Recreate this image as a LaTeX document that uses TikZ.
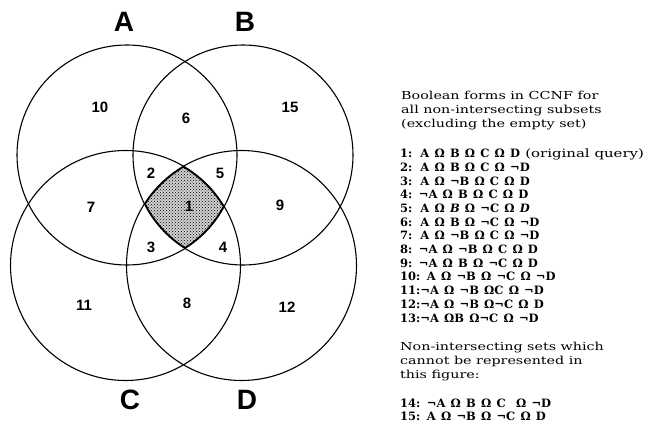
\documentclass[tikz,border=0pt]{standalone}
\usepackage{fontspec}
\setmainfont{DejaVu Serif}
\newfontfamily\wideserif{DejaVu Serif}[FakeStretch=1.3]
\newfontfamily\lblfont{Liberation Sans}
\newcommand\widegaps{\spaceskip=5.2pt plus 1pt\relax}
\newcommand\normgaps{\spaceskip=0pt\relax}
\newcommand\ngap{\hspace{8pt}}
\usetikzlibrary{patterns}
\begin{document}
\begin{tikzpicture}[x=1pt,y=-1pt,
  ring/.style={line width=1.1pt},
  setlbl/.style={font=\lblfont\bfseries\fontsize{28}{28}\selectfont, inner sep=0pt},
  reglbl/.style={font=\lblfont\bfseries\fontsize{15}{15}\selectfont, inner sep=0pt},
  txt/.style={anchor=base west, inner sep=0pt, font=\wideserif\fontsize{11}{13}\selectfont},
  frm/.style={anchor=base west, inner sep=0pt, font=\fontsize{11.5}{13}\selectfont\bfseries\widegaps}]
\useasboundingbox (0,0) rectangle (655,428);
% shaded central region (A and B and C and D)
\begin{scope}
  \clip (127,155) circle (110pt);
  \clip (243,155) circle (110pt);
  \clip (125.5,265.5) circle (115pt);
  \clip (241.5,265.5) circle (115pt);
  \fill[black!18] (0,0) rectangle (400,428);
  \fill[pattern=crosshatch dots] (0,0) rectangle (400,428);
  \draw[line width=2.6pt] (127,155) circle (110pt) (243,155) circle (110pt)
    (125.5,265.5) circle (115pt) (241.5,265.5) circle (115pt);
\end{scope}
% circles
\draw[ring] (127,155) circle (110pt);
\draw[ring] (243,155) circle (110pt);
\draw[ring] (125.5,265.5) circle (115pt);
\draw[ring] (241.5,265.5) circle (115pt);
% set labels
\node[setlbl] (lA) at (124,22) {A};
\node[setlbl] (lB) at (245,22) {B};
\node[setlbl] (lC) at (130,400) {C};
\node[setlbl] (lD) at (247,400) {D};
% region labels
\node[reglbl] (r10) at (100,107) {10};
\node[reglbl] (r6) at (186,118) {6};
\node[reglbl] (r15) at (290,107) {15};
\node[reglbl] (r2) at (151,173) {2};
\node[reglbl] (r5) at (220,173) {5};
\node[reglbl] (r7) at (91,207) {7};
\node[reglbl] (r1) at (189,206) {1};
\node[reglbl] (r9) at (280,205) {9};
\node[reglbl] (r3) at (151,247) {3};
\node[reglbl] (r4) at (223,247) {4};
\node[reglbl] (r11) at (84,305) {11};
\node[reglbl] (r8) at (187,303) {8};
\node[reglbl] (r12) at (287,307) {12};
% right-hand text
\node[txt] (h1) at (401,99) {Boolean forms in CCNF for};
\node[txt] (h2) at (401,113) {all non-intersecting subsets};
\node[txt] (h3) at (401,127) {(excluding the empty set)};
\node[frm] (f1) at (400,157) {1:\ngap A Ω B Ω C Ω D {\wideserif\mdseries\normgaps(original query)}};
\node[frm] (f2) at (400,171) {2:\ngap A Ω B Ω C Ω ¬D};
\node[frm] (f3) at (400,185) {3:\ngap A Ω ¬B Ω C Ω D};
\node[frm] (f4) at (400,198) {4: ¬A Ω B Ω C Ω D};
\node[frm] (f5) at (400,212) {5:\ngap A Ω \textit{B} Ω ¬C Ω \textit{D}};
\node[frm] (f6) at (400,226) {6:\ngap A Ω B Ω ¬C Ω ¬D};
\node[frm] (f7) at (400,239) {7:\ngap A Ω ¬B Ω C Ω ¬D};
\node[frm] (f8) at (400,253) {8: ¬A Ω ¬B Ω C Ω D};
\node[frm] (f9) at (400,267) {9: ¬A Ω B Ω ¬C Ω D};
\node[frm] (f10) at (400,280) {10: A Ω ¬B Ω ¬C Ω ¬D};
\node[frm] (f11) at (400,294) {11:¬A Ω ¬B ΩC Ω ¬D};
\node[frm] (f12) at (400,308) {12:¬A Ω ¬B Ω¬C Ω D};
\node[frm] (f13) at (400,322) {13:¬A ΩB Ω¬C Ω ¬D};
\node[txt] (n1) at (400,350) {Non-intersecting sets which};
\node[txt] (n2) at (400,364) {cannot be represented in};
\node[txt] (n3) at (400,378) {this figure:};
\node[frm] (f14) at (400,407) {14: ¬A Ω B Ω C \ Ω ¬D};
\node[frm] (f15) at (400,420) {15: A Ω ¬B Ω ¬C Ω D};
\end{tikzpicture}
\end{document}
